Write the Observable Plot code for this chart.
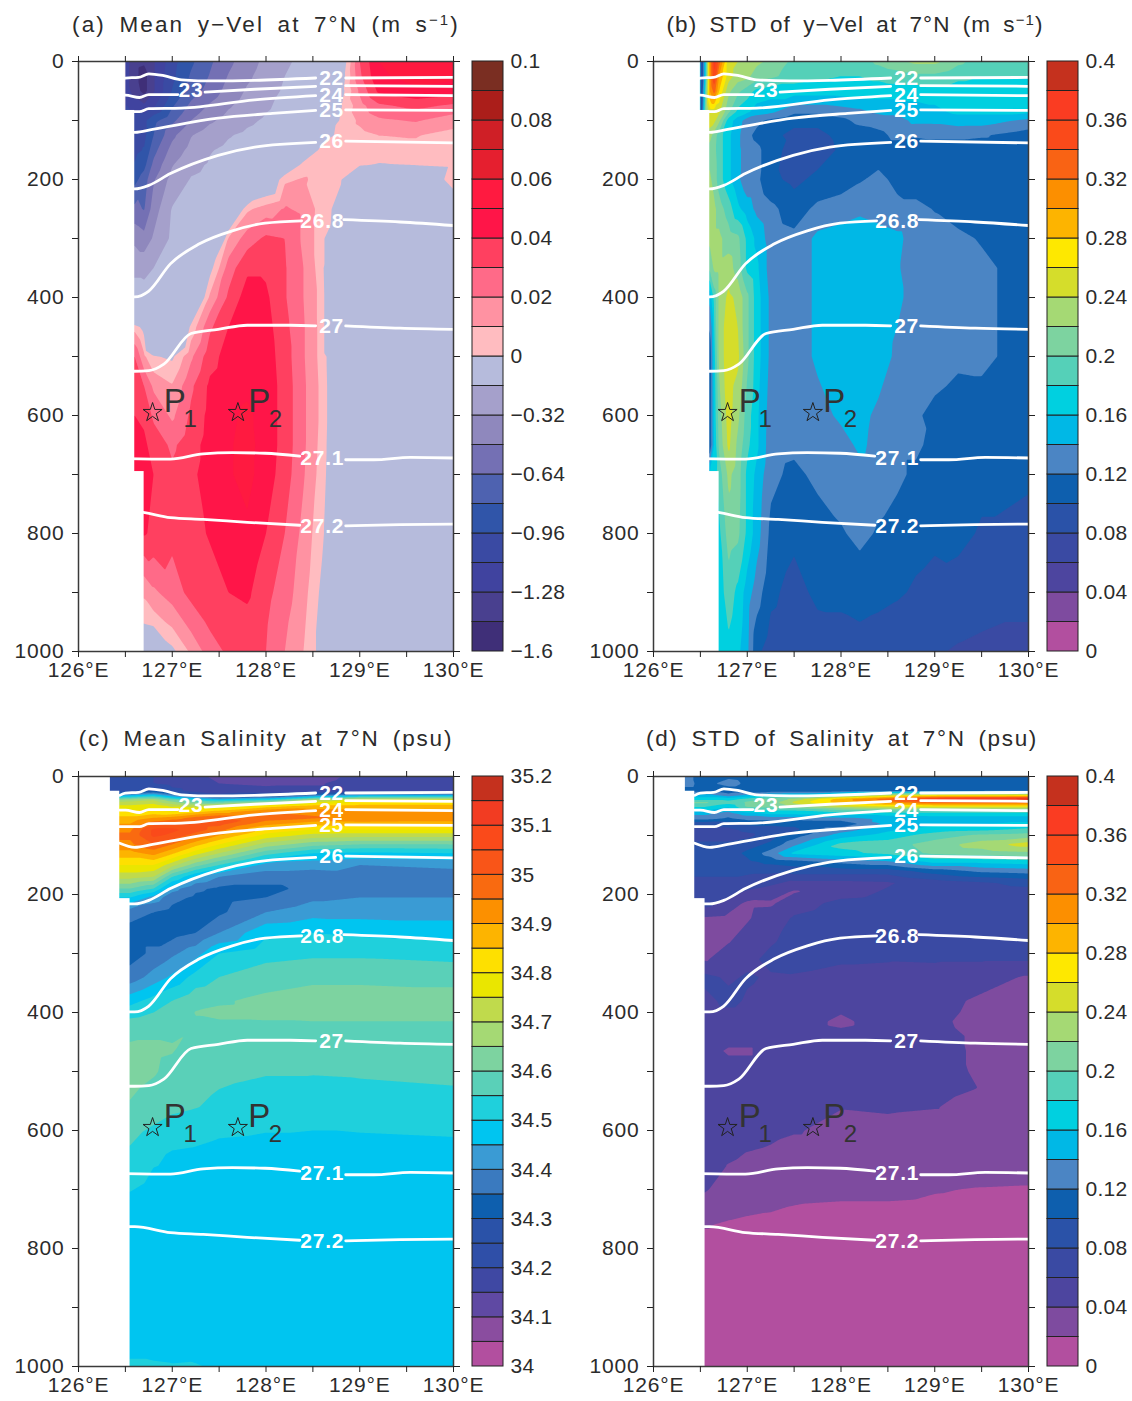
<!DOCTYPE html>
<html><head><meta charset="utf-8">
<script src="https://cdn.jsdelivr.net/npm/d3@7"></script>
<script src="https://cdn.jsdelivr.net/npm/@observablehq/plot@0.6"></script>
<style>
html,body{margin:0;padding:0;background:#fff}
#page{position:relative;width:1132px;height:1401px;overflow:hidden;font-family:"Liberation Sans",Arial,sans-serif;color:#2b2b2b}
.ttl{position:absolute;transform:translateX(-50%);white-space:nowrap;font-size:22.5px;word-spacing:5px;line-height:28px}
.ttl sup{font-size:15px;line-height:0;vertical-align:7px}
</style></head><body><div id="page"></div>
<script>
// ---------- shared axis / annotation lists ----------
const lonTicks=[126,126.5,127,127.5,128,128.5,129,129.5,130];
const depthTicks=[0,100,200,300,400,500,600,700,800,900,1000];

const iso22Lon=[126.44,126.5,126.64,126.75,126.91,127.1,127.45,127.88,128.53,128.7,128.85,130];
const iso22Depth=[32,28,27,21,24,31,33,32,28,null,28,27];
const iso23Lon=[126.44,126.5,126.65,126.75,127.06,127.2,127.35,127.88,128.53,128.7,128.85,130];
const iso23Depth=[57,57,61,56,56,null,52,47,42,null,41,42];
const iso24Lon=[126.44,126.5,126.65,126.75,127.1,127.88,128.53,128.7,128.85,130];
const iso24Depth=[85,85,85,80,79,65,58,null,56,58];
const iso25Lon=[126.44,126.6,126.79,127.49,128.07,128.53,128.7,128.85,130];
const iso25Depth=[113,120,115,96,88,83,null,82,83];
const iso26Lon=[126.5,126.6,126.75,126.98,127.49,127.88,128.53,128.7,128.85,130];
const iso26Depth=[216,216,210,190,159,145,137,null,135,138];
const iso268Lon=[126.5,126.6,126.75,126.98,127.29,127.64,127.99,128.38,128.6,128.83,129.43,130];
const iso268Depth=[399,399,389,343,309,287,274,270,null,268,272,278];
const iso27Lon=[126.5,126.6,126.75,126.91,127.2,127.49,127.8,128.26,128.53,128.7,128.85,129.43,130];
const iso27Depth=[525,525,524,513,461,454,447,447,448,null,448,452,454];
const iso271Lon=[126.5,126.98,127.33,127.64,127.99,128.36,128.6,128.85,129.15,129.54,130];
const iso271Depth=[673,674,665,663,664,669,null,675,675,671,672];
const iso272Lon=[126.5,126.6,126.98,127.33,127.8,128.36,128.6,128.85,129.43,130];
const iso272Depth=[763,763,773,776,781,786,null,787,785,784];

const isoNames=["22","23","24","25","26","26.8","27","27.1","27.2"];
const isoLabelLon=[128.7,127.2,128.7,128.7,128.7,128.6,128.7,128.6,128.6];
const isoLabelDepth=[28,49,58,82,135,270,448,672,787];
const starLon=[126.79,127.7];
const starDepth=[595,595];
const stationLetterLon=[126.91,127.81];
const stationNumberLon=[127.12,128.03];
const stationNumbers=["1","2"];

// ---------- colour lists ----------
const velLevels=[-1.6,-1.44,-1.28,-1.12,-.96,-.8,-.64,-.48,-.32,-.16,0,.01,.02,.03,.04,.05,.06,.07,.08,.09];
const velColors=["#3f2f78","#49408f","#40439f","#3a4aa3","#3055a9","#4e62b0","#7470b4","#8f88bd","#a5a0cb","#b6bbdc",
 "#ffbcc0","#ff92a2","#ff6a88","#ff4060","#ff1548","#ff1a40","#e51f2f","#cf1f26","#ab1e1a","#7a2e22"];
const velTicks=["−1.6","−1.28","−0.96","−0.64","−0.32","0","0.02","0.04","0.06","0.08","0.1"];

const stdLevels=[0,.02,.04,.06,.08,.1,.12,.14,.16,.18,.2,.22,.24,.26,.28,.3,.32,.34,.36,.38];
const stdColors=["#b24f9f","#7e4b9f","#4d459f","#3a4aa3","#2a52a8","#0e5fae","#4b85c4","#00b8e6","#00d0e0","#55d0b8",
 "#7dd3a0","#a5d974","#d5dd2b","#fee800","#fdb400","#fc8f00","#f96314","#fa4a1a","#fa3c22","#c5311e"];
const stdTicks=["0","0.04","0.08","0.12","0.16","0.2","0.24","0.28","0.32","0.36","0.4"];

const salLevels=[34,34.05,34.1,34.15,34.2,34.25,34.3,34.35,34.4,34.45,34.5,34.55,34.6,34.65,34.7,34.75,34.8,34.85,34.9,34.95,35,35.05,35.1,35.15];
const salColors=["#b24f9f","#8a4d9f","#5f49a3","#3f48a3","#2f4fa8","#2a52a8","#0e5fae","#3a7abf","#3a9bd4","#00c5f0","#1fd0dc","#5ad0b8",
 "#7dd3a0","#a5d974","#c0da4c","#eae600","#fee000","#fdb400","#fc9000","#f96a10","#f95518","#fa4a1a","#f23c22","#c5311e"];
const salTicks=["34","34.1","34.2","34.3","34.4","34.5","34.6","34.7","34.8","34.9","35","35.1","35.2"];

// ---------- coast masks ----------
const velCoastLon=[126.5,126.6,126.7], velCoastTop=[0,83,695];
const salCoastLon=[126.34,126.44,126.55], salCoastTop=[0,25,207];

// ---------- (a) mean y-velocity ----------
const velMeanLon=[126.5,126.6,126.7,126.8,127,127.2,127.4,127.6,127.8,128,128.2,128.4,128.6,128.8,129,129.2,129.6,130];
const velMeanDepth=[0,25,50,75,100,125,150,175,200,250,300,350,400,450,500,550,600,650,700,800,900,950,1000];
const velMean=[
[-1.2,-1.4,-1.42,-1.3,-1.02,-.83,-.67,-.52,-.39,-.28,-.18,-.13,-.07,-.012,.03,.05,.056,.056],
[-1.2,-1.4,-1.5,-1.3,-1,-.78,-.63,-.47,-.35,-.25,-.16,-.11,-.06,-.008,.028,.048,.054,.052],
[-1.2,-1.35,-1.5,-1.3,-.95,-.72,-.58,-.42,-.3,-.22,-.14,-.09,-.05,-.005,.022,.042,.048,.045],
[-1.1,-1.2,-1.25,-1.15,-.82,-.6,-.46,-.34,-.25,-.18,-.12,-.075,-.035,-.001,.016,.028,.033,.028],
[-1,-1,-1,-.85,-.68,-.48,-.35,-.26,-.19,-.14,-.1,-.06,-.02,.002,.012,.018,.021,.014],
[-1,-1,-1,-.8,-.52,-.33,-.23,-.17,-.13,-.095,-.07,-.035,-.005,.003,.007,.01,.0105,.007],
[-1,-1,-.95,-.7,-.42,-.27,-.17,-.13,-.1,-.07,-.045,-.015,.004,.005,.006,.008,.008,.006],
[-.95,-.95,-.85,-.6,-.33,-.2,-.145,-.1,-.07,-.045,-.018,.004,.006,.003,.002,-.001,.001,.005],
[-.85,-.85,-.72,-.5,-.26,-.15,-.12,-.08,-.05,-.02,.008,.011,.007,.001,-.03,-.05,-.03,.01],
[-.6,-.6,-.65,-.4,-.15,-.12,-.08,-.03,.008,.015,.021,.018,.005,-.005,-.05,-.06,-.06,-.02],
[-.36,-.36,-.42,-.3,-.13,-.1,-.05,.011,.025,.032,.03,.018,.004,-.03,-.08,-.08,-.08,-.06],
[-.2,-.2,-.2,-.16,-.1,-.07,-.005,.025,.038,.038,.031,.02,.004,-.05,-.1,-.1,-.1,-.1],
[-.08,-.08,-.1,-.1,-.06,-.03,.012,.032,.045,.042,.031,.02,.006,-.05,-.1,-.1,-.1,-.1],
[.006,.006,-.005,-.05,-.04,.003,.028,.04,.046,.044,.033,.021,.006,-.05,-.1,-.1,-.1,-.1],
[.03,.03,.012,.001,-.002,.018,.036,.044,.047,.045,.035,.021,.006,-.02,-.08,-.08,-.08,-.08],
[.036,.036,.03,.018,.011,.028,.042,.046,.048,.046,.036,.022,.007,-.02,-.08,-.08,-.08,-.08],
[.04,.04,.038,.028,.018,.032,.043,.048,.052,.046,.036,.022,.007,-.02,-.08,-.08,-.08,-.08],
[.042,.042,.042,.036,.028,.036,.044,.049,.053,.046,.036,.022,.006,-.02,-.08,-.08,-.08,-.08],
[.043,.043,.043,.04,.032,.038,.044,.049,.053,.045,.035,.021,.005,-.02,-.08,-.08,-.08,-.08],
[.041,.041,.041,.038,.033,.036,.041,.047,.048,.04,.03,.017,.002,-.02,-.08,-.08,-.08,-.08],
[.012,.012,.012,.018,.025,.033,.035,.04,.042,.033,.025,.014,-.003,-.02,-.08,-.08,-.08,-.08],
[.002,.002,.002,.005,.013,.024,.032,.036,.037,.031,.022,.012,-.005,-.02,-.08,-.08,-.08,-.08],
[-.04,-.04,-.04,-.03,-.003,.012,.025,.032,.035,.03,.02,.01,-.005,-.02,-.08,-.08,-.08,-.08]];

// ---------- (b) STD of y-velocity ----------
const velStdLon=[126.5,126.55,126.6,126.65,126.7,126.8,126.9,127,127.1,127.25,127.5,127.75,128,128.2,128.4,128.6,128.8,129,129.25,129.5,130];
const velStdDepth=[0,25,50,85,100,125,150,200,250,300,350,400,500,600,650,700,800,900,1000];
const velStd=[
[.06,.16,.3,.37,.33,.25,.24,.235,.225,.215,.195,.185,.185,.19,.205,.215,.225,.225,.205,.19,.185],
[.06,.16,.3,.36,.3,.25,.23,.225,.21,.205,.19,.185,.18,.18,.185,.19,.195,.195,.185,.18,.18],
[.06,.18,.3,.33,.28,.225,.205,.19,.175,.17,.17,.17,.17,.17,.17,.17,.17,.17,.17,.17,.17],
[.06,.2,.25,.25,.245,.205,.175,.165,.15,.145,.125,.125,.13,.135,.145,.145,.15,.155,.165,.165,.165],
[.25,.25,.25,.245,.225,.17,.15,.13,.125,.115,.105,.105,.115,.125,.128,.133,.145,.145,.15,.15,.135],
[.23,.23,.23,.21,.19,.165,.145,.125,.115,.105,.095,.095,.105,.11,.115,.125,.122,.124,.124,.122,.11],
[.21,.21,.21,.205,.19,.165,.145,.13,.125,.11,.09,.09,.103,.108,.11,.11,.11,.11,.11,.11,.11],
[.225,.225,.225,.21,.19,.165,.145,.125,.125,.105,.095,.105,.11,.118,.125,.115,.11,.11,.11,.11,.11],
[.225,.225,.225,.225,.21,.19,.165,.15,.135,.125,.11,.125,.13,.135,.13,.125,.125,.119,.11,.11,.11],
[.225,.225,.225,.225,.225,.21,.205,.175,.155,.13,.125,.145,.15,.155,.15,.145,.13,.128,.125,.118,.108],
[.205,.205,.205,.225,.225,.23,.21,.175,.165,.13,.125,.145,.155,.157,.155,.142,.13,.128,.125,.125,.11],
[.145,.145,.145,.19,.225,.245,.235,.205,.17,.135,.125,.145,.155,.158,.155,.145,.13,.128,.125,.125,.11],
[.1,.1,.1,.175,.225,.255,.245,.205,.17,.135,.125,.145,.155,.158,.152,.135,.13,.128,.124,.125,.11],
[.1,.1,.1,.17,.21,.25,.225,.19,.165,.13,.123,.13,.145,.147,.135,.125,.122,.116,.11,.11,.11],
[.1,.1,.1,.165,.205,.245,.215,.185,.165,.128,.125,.125,.13,.145,.132,.125,.125,.112,.11,.11,.11],
[.165,.165,.165,.17,.19,.225,.21,.175,.155,.125,.115,.125,.13,.132,.128,.125,.115,.11,.105,.105,.105],
[.175,.175,.175,.175,.175,.21,.205,.175,.15,.115,.105,.11,.118,.125,.118,.11,.105,.103,.105,.098,.09],
[.17,.17,.17,.17,.17,.19,.175,.15,.13,.105,.092,.105,.105,.108,.105,.102,.098,.095,.092,.09,.085],
[.165,.165,.165,.165,.165,.175,.165,.145,.105,.09,.085,.088,.09,.092,.09,.088,.085,.082,.078,.075,.075]];

// ---------- (c) mean salinity ----------
const salMeanLon=[126.3,126.55,126.8,127,127.25,127.5,128,128.5,129,130];
const salMeanDepth=[0,12,25,32,40,50,60,70,80,90,100,115,130,150,170,190,205,230,265,300,340,380,400,420,460,500,560,640,720,850,960,1000];
const salMean=[
[34.2,34.22,34.2,34.18,34.16,34.14,34.12,34.12,34.17,34.19],
[34.2,34.22,34.2,34.18,34.17,34.15,34.14,34.14,34.18,34.19],
[34.2,34.25,34.3,34.22,34.18,34.17,34.17,34.18,34.18,34.2],
[34.4,34.45,34.5,34.4,34.3,34.22,34.25,34.38,34.45,34.45],
[34.65,34.68,34.7,34.62,34.55,34.5,34.55,34.7,34.78,34.78],
[34.76,34.76,34.78,34.74,34.72,34.74,34.82,34.87,34.87,34.87],
[34.82,34.82,34.82,34.8,34.84,34.88,34.95,34.93,34.91,34.91],
[34.86,34.86,34.9,34.92,34.97,35,34.98,34.96,34.94,34.93],
[34.9,34.9,34.98,35.02,35.03,35.02,34.92,34.87,34.88,34.88],
[34.94,34.94,35.06,35.06,35.03,34.97,34.84,34.8,34.8,34.8],
[34.96,34.96,35.06,35.04,34.97,34.9,34.78,34.73,34.72,34.72],
[34.94,34.94,35,34.95,34.87,34.8,34.68,34.62,34.6,34.6],
[34.88,34.88,34.92,34.86,34.77,34.7,34.57,34.5,34.49,34.5],
[34.8,34.8,34.8,34.72,34.62,34.55,34.43,34.42,34.4,34.41],
[34.72,34.72,34.7,34.55,34.45,34.4,34.37,34.37,34.38,34.38],
[34.6,34.6,34.55,34.42,34.36,34.34,34.34,34.36,34.38,34.38],
[34.5,34.5,34.43,34.37,34.34,34.33,34.35,34.39,34.4,34.4],
[34.37,34.37,34.35,34.33,34.32,34.34,34.4,34.43,34.43,34.43],
[34.33,34.33,34.33,34.33,34.35,34.4,34.49,34.5,34.49,34.48],
[34.33,34.33,34.36,34.39,34.43,34.5,34.53,34.54,34.54,34.53],
[34.37,34.37,34.42,34.46,34.52,34.55,34.58,34.59,34.59,34.585],
[34.48,34.48,34.52,34.55,34.585,34.595,34.61,34.62,34.62,34.62],
[34.52,34.53,34.55,34.57,34.602,34.607,34.61,34.615,34.615,34.615],
[34.55,34.57,34.58,34.58,34.595,34.595,34.595,34.595,34.595,34.595],
[34.61,34.61,34.61,34.605,34.58,34.575,34.575,34.575,34.575,34.575],
[34.62,34.62,34.605,34.585,34.57,34.56,34.553,34.553,34.555,34.56],
[34.595,34.595,34.575,34.56,34.552,34.54,34.53,34.525,34.53,34.535],
[34.54,34.54,34.51,34.495,34.49,34.48,34.475,34.475,34.475,34.48],
[34.49,34.49,34.475,34.47,34.47,34.47,34.47,34.47,34.47,34.47],
[34.47,34.47,34.47,34.47,34.47,34.47,34.47,34.47,34.47,34.47],
[34.485,34.49,34.485,34.48,34.47,34.47,34.47,34.47,34.47,34.47],
[34.505,34.505,34.505,34.503,34.505,34.49,34.485,34.485,34.485,34.49]];

// ---------- (d) STD of salinity ----------
const salStdLon=[126.3,126.55,126.8,127,127.25,127.5,128,128.5,129,129.5,130];
const salStdDepth=[0,12,24,32,38,44,50,56,63,72,80,90,100,115,130,145,160,180,195,215,240,280,310,340,380,415,440,465,500,530,560,600,640,660,700,730,760,800,1000];
const salStd=[
[.13,.11,.115,.11,.11,.105,.105,.105,.105,.105,.105],
[.13,.112,.13,.115,.11,.105,.105,.105,.105,.105,.105],
[.11,.11,.105,.105,.105,.105,.105,.11,.11,.11,.11],
[.15,.15,.13,.145,.165,.17,.205,.245,.265,.265,.27],
[.17,.17,.17,.185,.205,.225,.29,.33,.37,.385,.385],
[.205,.205,.19,.205,.21,.245,.29,.31,.33,.33,.33],
[.185,.185,.165,.205,.21,.225,.25,.265,.27,.27,.27],
[.165,.165,.15,.185,.185,.185,.205,.21,.21,.21,.21],
[.145,.145,.13,.15,.165,.165,.17,.17,.17,.17,.17],
[.125,.125,.115,.125,.125,.125,.13,.145,.15,.15,.15],
[.085,.085,.09,.105,.105,.105,.105,.145,.155,.158,.165],
[.07,.07,.075,.085,.09,.095,.13,.155,.17,.175,.185],
[.07,.07,.07,.075,.09,.11,.15,.17,.19,.205,.21],
[.085,.085,.085,.09,.105,.135,.185,.19,.21,.23,.25],
[.09,.09,.09,.105,.13,.165,.175,.185,.205,.21,.215],
[.09,.09,.09,.095,.105,.11,.125,.135,.165,.165,.17],
[.085,.085,.085,.085,.085,.09,.09,.09,.11,.125,.13],
[.075,.075,.075,.07,.065,.055,.055,.058,.07,.078,.085],
[.07,.07,.07,.058,.05,.038,.052,.062,.07,.072,.075],
[.07,.068,.05,.036,.037,.052,.065,.068,.07,.07,.07],
[.038,.038,.035,.038,.05,.062,.07,.07,.07,.07,.07],
[.036,.036,.039,.048,.058,.066,.07,.07,.07,.07,.07],
[.038,.038,.05,.055,.065,.064,.062,.061,.062,.062,.062],
[.065,.065,.057,.062,.058,.059,.055,.055,.052,.047,.038],
[.055,.055,.065,.058,.055,.052,.048,.05,.046,.037,.035],
[.05,.05,.05,.05,.05,.05,.036,.05,.043,.035,.033],
[.05,.05,.05,.05,.05,.05,.045,.05,.047,.036,.032],
[.05,.05,.037,.037,.05,.05,.05,.05,.048,.036,.03],
[.05,.05,.05,.05,.05,.05,.05,.05,.05,.036,.03],
[.05,.05,.05,.05,.05,.05,.05,.05,.046,.039,.03],
[.055,.055,.055,.052,.05,.05,.041,.043,.041,.032,.03],
[.058,.058,.052,.05,.046,.042,.033,.033,.03,.03,.03],
[.05,.05,.044,.039,.036,.03,.03,.03,.03,.03,.03],
[.05,.05,.039,.035,.032,.03,.03,.03,.03,.03,.03],
[.042,.042,.03,.03,.03,.029,.024,.024,.021,.019,.018],
[.03,.03,.026,.024,.022,.019,.018,.018,.017,.016,.015],
[.021,.021,.018,.016,.015,.015,.015,.015,.015,.015,.015],
[.015,.015,.015,.015,.015,.015,.015,.015,.015,.015,.015],
[.012,.012,.012,.012,.012,.012,.012,.012,.012,.012,.012]];

// ---------- tables built from the lists ----------
const flatten=(lons,depths,rows)=>rows.flatMap((r,i)=>r.map((v,j)=>({lon:lons[j],depth:depths[i],v})));
const isoTable=[[iso22Lon,iso22Depth],[iso23Lon,iso23Depth],[iso24Lon,iso24Depth],[iso25Lon,iso25Depth],[iso26Lon,iso26Depth],
 [iso268Lon,iso268Depth],[iso27Lon,iso27Depth],[iso271Lon,iso271Depth],[iso272Lon,iso272Depth]]
 .flatMap(([lo,de],k)=>lo.map((l,i)=>({lon:l,depth:de[i],sigma:isoNames[k]})));
const labelTable=isoNames.map((n,i)=>({n,lon:isoLabelLon[i],depth:isoLabelDepth[i]}));
const starTable=starLon.map((l,i)=>({lon:l,depth:starDepth[i]}));
const letterTable=stationLetterLon.map((l,i)=>({lon:l,depth:576}));
const numberTable=stationNumberLon.map((l,i)=>({lon:l,depth:606,t:stationNumbers[i]}));

const FONT='"Liberation Sans",Arial,sans-serif';
const page=document.getElementById("page");
function place(svg,left,top){svg.style.position="absolute";svg.style.left=left+"px";svg.style.top=top+"px";svg.style.overflow="visible";svg.style.background="none";page.appendChild(svg);}

function panel(left,top,lons,depths,rows,levels,colors,tickText,coastLon,coastTop,title,titleX,titleSpacing,titleTop){
  const cells=flatten(lons,depths,rows);
  const mask=coastLon.map((c,i)=>({x1:126,x2:c,y1:coastTop[i],y2:1000}));
  const colorScale={type:"threshold",domain:levels.slice(1),range:colors};
  const plot=Plot.plot({
    width:473,height:660,marginLeft:78,marginRight:20,marginTop:30,marginBottom:40,
    style:{fontFamily:FONT,fontSize:"21px",color:"#2b2b2b",letterSpacing:"0.8px"},
    x:{domain:[126,130]},y:{domain:[0,1000],reverse:true},color:colorScale,
    marks:[
      Plot.contour(cells,{x:"lon",y:"depth",value:"v",fill:"value",thresholds:levels,interpolate:"barycentric",pixelSize:1,stroke:"none"}),
      Plot.line(isoTable,{x:"lon",y:"depth",z:"sigma",stroke:"#fff",strokeWidth:2.8,curve:"monotone-x"}),
      Plot.rect(mask,{x1:"x1",x2:"x2",y1:"y1",y2:"y2",fill:"#fff"}),
      Plot.text(labelTable,{x:"lon",y:"depth",text:"n",fill:"#fff",fontWeight:"bold",fontSize:21,fontFamily:FONT}),
      Plot.dot(starTable,{x:"lon",y:"depth",symbol:"star",r:6,stroke:"#222",fill:"none",strokeWidth:1}),
      Plot.text(letterTable,{x:"lon",y:"depth",text:()=>"P",textAnchor:"start",fontSize:33,fontWeight:"300",fill:"#333"}),
      Plot.text(numberTable,{x:"lon",y:"depth",text:"t",textAnchor:"start",fontSize:24,fill:"#333"}),
      Plot.frame({stroke:"#3a3a3a",strokeWidth:1.5}),
      Plot.axisX({anchor:"bottom",ticks:lonTicks,tickSize:6,tickPadding:5,label:null,stroke:"#222",tickFormat:d=>Number.isInteger(d)?d+"°E":""}),
      Plot.axisX({anchor:"top",ticks:lonTicks,tickSize:6,label:null,stroke:"#222",tickFormat:()=>""}),
      Plot.axisY({anchor:"left",ticks:depthTicks,tickSize:6,tickPadding:8,label:null,stroke:"#222",tickFormat:d=>d%200?"":String(d)}),
      Plot.axisY({anchor:"right",ticks:depthTicks,tickSize:6,label:null,stroke:"#222",tickFormat:()=>""})
    ]});
  place(plot,left,top);

  const boxes=levels.map((l,i)=>({i,l}));
  const N=levels.length;
  const labelAt=d3.range(0,N+1,2);
  const bar=Plot.plot({
    width:101,height:660,marginLeft:0,marginRight:70,marginTop:30,marginBottom:40,
    style:{fontFamily:FONT,fontSize:"21px",color:"#2b2b2b",letterSpacing:"0.3px"},
    x:{domain:[0,1],axis:null},y:{domain:[0,N],axis:null},color:colorScale,
    marks:[
      Plot.rect(boxes,{x1:()=>0,x2:()=>1,y1:"i",y2:d=>d.i+1,fill:"l",stroke:"#222",strokeWidth:1}),
      Plot.axisY({anchor:"right",ticks:labelAt,tickSize:0,tickPadding:7,label:null,tickFormat:d=>tickText[d/2]})
    ]});
  place(bar,left+472,top);

  const t=document.createElement("div");
  t.className="ttl";t.innerHTML=title;t.style.left=titleX+"px";t.style.top=titleTop+"px";t.style.letterSpacing=titleSpacing+"px";
  page.appendChild(t);
}

panel(0,31,velMeanLon,velMeanDepth,velMean,velLevels,velColors,velTicks,velCoastLon,velCoastTop,"(a) Mean y−Vel at 7°N (m s<sup>−1</sup>)",266,2.15,11);
panel(575,31,velStdLon,velStdDepth,velStd,stdLevels,stdColors,stdTicks,velCoastLon,velCoastTop,"(b) STD of y−Vel at 7°N (m s<sup>−1</sup>)",855,1.05,11);
panel(0,746,salMeanLon,salMeanDepth,salMean,salLevels,salColors,salTicks,salCoastLon,salCoastTop,"(c) Mean Salinity at 7°N (psu)",266,1.85,725);
panel(575,746,salStdLon,salStdDepth,salStd,stdLevels,stdColors,stdTicks,salCoastLon,salCoastTop,"(d) STD of Salinity at 7°N (psu)",842,1.65,725);
</script></body></html>
